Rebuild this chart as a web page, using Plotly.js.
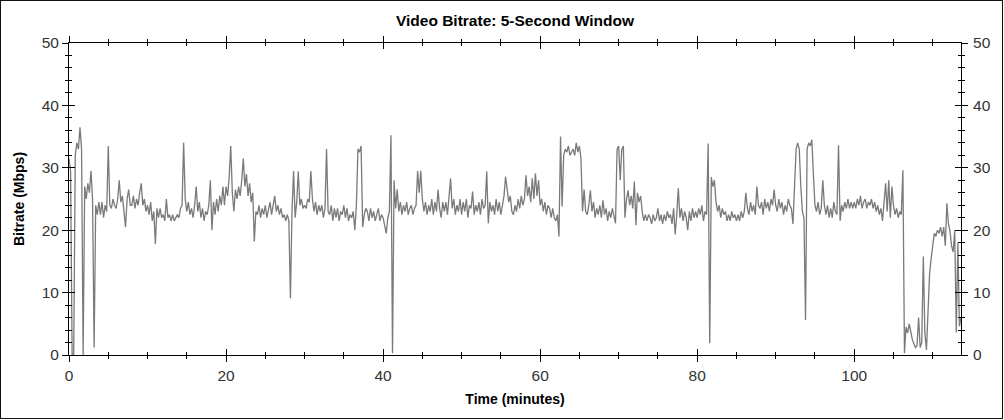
<!DOCTYPE html>
<html>
<head>
<meta charset="utf-8">
<script src="https://cdn.plot.ly/plotly-3.0.1.min.js"></script>
<style>
  html, body { margin: 0; padding: 0; background: #fff; }
  #wrap { position: relative; width: 1004px; height: 420px; }
  #chart { width: 1004px; height: 420px; }
  #frame { position: absolute; left: 0; top: 0; width: 1003px; height: 419px; border: 1px solid #111; pointer-events: none; box-sizing: border-box; }
</style>
</head>
<body>
<div id="wrap"><div id="chart"></div><div id="frame"></div></div>
<script>
// Sampling: one value every 0.2 minutes, starting at 0 min
const startMinute = 0;
const sampleStepMinutes = 0.2;

// Video bitrate (Mbps), 10 values (2 minutes) per row
const bitrateMbps = [
  31.5, 29.5, 0, 0, 32, 34, 33, 36.5, 33, 0,
  27, 25, 27.5, 26, 29.5, 25, 1.2, 24, 22.5, 24.5,
  22.5, 24.5, 22, 24, 23, 33.5, 24, 23.5, 25, 24,
  23.5, 25, 28, 24.5, 25.5, 23, 20.5, 25, 26.5, 24,
  24, 25.5, 23.5, 25, 24, 26, 27.5, 24, 25, 23,
  24, 22.5, 24.5, 21.5, 23, 17.8, 23.5, 22, 23.5, 22,
  22.5, 21.5, 25, 22, 22.5, 21.5, 22.5, 21.5, 22, 22.5,
  22, 23.5, 24, 34, 25, 23, 24.5, 22.5, 23.5, 22,
  24, 27, 23, 24.5, 22, 23.5, 21.5, 23, 22.5, 24,
  28, 20, 24.5, 22.5, 25, 23, 25.5, 24, 27, 24,
  27, 25.5, 28.5, 33.5, 26, 23, 26.5, 25, 27, 25.5,
  28, 31.5, 27, 29, 25.5, 27.5, 24.5, 26, 18.2, 23,
  22.5, 24, 22, 23.5, 22.5, 24, 22, 23.5, 24.5, 22.5,
  24, 25.5, 23, 24, 22.5, 23.5, 22, 22.5, 21.5, 22.5,
  21.5, 9.1, 23, 29.5, 22, 24.5, 29.4, 24, 25, 23.5,
  24, 23.5, 25, 24.5, 29.5, 25, 23, 24.5, 22.5, 24,
  23, 24, 22, 23.5, 33, 23, 22.5, 24, 21.5, 23.5,
  22, 23.5, 21.5, 23, 22.5, 24, 22, 23.5, 21.5, 22.5,
  22, 23, 20, 24, 33, 32.5, 33.5, 20.5, 22.5, 23.5,
  23, 21.5, 23.5, 22, 23, 21.5, 22.5, 23.5, 21.5, 22.5,
  22, 20.5, 19.5, 22, 23, 35.2, 0.3, 28, 23.5, 26.5,
  23, 24.5, 22.5, 24, 23, 24.5, 22.5, 23.5, 24, 22.5,
  23.5, 24, 29.5, 26, 29.5, 25, 23, 24.5, 22.5, 24,
  23, 25, 22.5, 24.5, 23, 26.5, 23.5, 22, 24.5, 23,
  24.5, 22.5, 25, 28.3, 23.5, 25, 22.5, 24, 23, 25,
  22.5, 24.5, 23, 25, 22, 24, 23.5, 26.2, 22.5, 24,
  23, 24.5, 22.5, 25, 23.5, 24, 29.4, 21.1, 24.5, 23,
  24, 22.5, 25, 23, 24.5, 22.5, 24, 25.5, 28.6, 26,
  24.5, 25.5, 23, 22.5, 24, 23, 25, 23.5, 25.5, 24,
  25, 28.8, 25.5, 27, 24.5, 28.3, 25, 29.1, 25.5, 28,
  24, 25, 23, 24.5, 22.5, 24, 23.5, 22, 23.5, 22,
  21.5, 22.5, 19, 35, 23.8, 32, 33, 32.5, 33.5, 32,
  32.5, 33, 32, 34, 32.5, 33.5, 31.5, 23, 26.5, 23,
  22.5, 24, 26.4, 23, 24.5, 22, 23.5, 22.5, 24, 22,
  24.8, 22.5, 23.5, 21.5, 23, 22, 23.5, 22.5, 21.1, 33,
  33.5, 28, 33, 33.5, 22, 25, 26.4, 24, 25.5, 23.5,
  27.8, 20.8, 26, 24.5, 25.5, 23, 21.5, 22.5, 21.5, 22.5,
  22, 21, 22.5, 21.5, 22, 23.5, 21.5, 22.5, 21, 22.5,
  21.5, 23, 22, 22.5, 21, 23.5, 19.3, 22.5, 26.7, 22,
  23.5, 21.5, 23, 22, 20, 23, 21.5, 23.5, 22, 23,
  22, 23.5, 22.5, 24, 21.5, 23, 22.5, 33.9, 1.9, 28.5,
  27, 28, 24.5, 23, 24, 22, 23.5, 22.5, 23, 21.5,
  22.5, 21.5, 23, 22, 22.5, 21.5, 22.5, 21.5, 23, 22,
  23, 26, 23.5, 22.5, 24.5, 23, 24, 22.5, 27, 24,
  23.5, 24.5, 22.5, 25, 23.5, 24.5, 23, 25, 24, 26.5,
  24, 23, 25, 23.5, 24.5, 22.5, 24, 23, 25, 24,
  23.5, 21, 27, 33, 34, 33, 27, 23, 22, 5.6,
  33, 34, 33.5, 34.5, 29, 24, 23, 24.5, 22.5, 23.5,
  28, 24, 22.5, 24, 22, 23.5, 22, 24.5, 23, 22.5,
  33.6, 21.5, 24, 23, 24.5, 23.5, 25, 23.5, 24.5, 23.5,
  24.5, 23.5, 25, 24, 25.5, 23.5, 24.5, 25, 23.5, 24.5,
  24, 25, 23.5, 24.5, 23, 24, 22.5, 23.5, 21.5, 24,
  27.5, 23, 28, 22, 27, 24, 22.5, 23.5, 22, 23,
  22.5, 29.6, 0.3, 4.5, 3.5, 5, 3.5, 2.5, 1.8, 1.2,
  1.5, 6, 1.2, 2, 15.8, 3.5, 0.8, 8, 13, 15.5,
  18, 19.5, 19, 20, 19.5, 20.5, 19, 20.5, 17.5, 24.3,
  21, 19.8, 17.5, 16.5, 20, 3.6, 18, 4.6, 6
];

const chartTitle = 'Video Bitrate: 5-Second Window';
const xTitle = 'Time (minutes)';
const yTitle = 'Bitrate (Mbps)';
const xRange = [0, 113.6];
const yRange = [0, 50];

const tickFont = { family: 'Liberation Sans, Arial, sans-serif', size: 15.5, color: '#333333' };
const titleFont = { family: 'Liberation Sans, Arial, sans-serif', size: 14, color: '#000000', weight: 'bold' };

const traces = [
  {
    type: 'scatter', mode: 'lines',
    x0: startMinute, dx: sampleStepMinutes, y: bitrateMbps,
    line: { color: '#7a7a7a', width: 1.3 },
    hoverinfo: 'skip', showlegend: false
  },
  { type: 'scatter', mode: 'lines', x: [], y: [], xaxis: 'x2', yaxis: 'y2', showlegend: false, hoverinfo: 'skip' }
];

const baseX = {
  range: xRange, autorange: false, tick0: 0, dtick: 20,
  showgrid: false, zeroline: false, showline: true, linecolor: '#000', linewidth: 1,
  tickcolor: '#000', tickwidth: 1
};
const baseY = {
  range: yRange, autorange: false, tick0: 0, dtick: 10,
  showgrid: false, zeroline: false, showline: true, linecolor: '#000', linewidth: 1,
  tickcolor: '#000', tickwidth: 1
};

const layout = {
  width: 1004, height: 420,
  margin: { l: 69, r: 43, t: 43, b: 65 },
  paper_bgcolor: '#ffffff', plot_bgcolor: '#ffffff',
  showlegend: false,
  title: { text: chartTitle, font: { ...titleFont, size: 15.5 }, xref: 'paper', x: 0.5, xanchor: 'center', y: 0.952, yanchor: 'middle' },
  xaxis: Object.assign({}, baseX, {
    ticks: 'outside', ticklen: 6, mirror: 'ticks',
    minor: { dtick: 5, ticks: 'outside', ticklen: 3, tickcolor: '#000' },
    tickfont: tickFont,
    title: { text: xTitle, font: titleFont, standoff: 11 }
  }),
  xaxis2: Object.assign({}, baseX, {
    overlaying: 'x', anchor: 'y2', side: 'top',
    ticks: 'inside', ticklen: 6, mirror: 'ticks', showticklabels: false,
    minor: { dtick: 5, ticks: 'inside', ticklen: 3, tickcolor: '#000' }
  }),
  yaxis: Object.assign({}, baseY, {
    ticks: 'outside', ticklen: 6, mirror: 'ticks',
    minor: { dtick: 2, ticks: 'outside', ticklen: 3, tickcolor: '#000' },
    tickfont: tickFont,
    title: { text: yTitle, font: titleFont, standoff: 13 }
  }),
  yaxis2: Object.assign({}, baseY, {
    overlaying: 'y', anchor: 'x2', side: 'right',
    ticks: 'inside', ticklen: 6, mirror: 'ticks', showticklabels: true,
    minor: { dtick: 2, ticks: 'inside', ticklen: 3, tickcolor: '#000' },
    tickfont: tickFont, ticklabelstandoff: 8
  })
};

Plotly.newPlot('chart', traces, layout, { displayModeBar: false, staticPlot: true });
</script>
</body>
</html>
